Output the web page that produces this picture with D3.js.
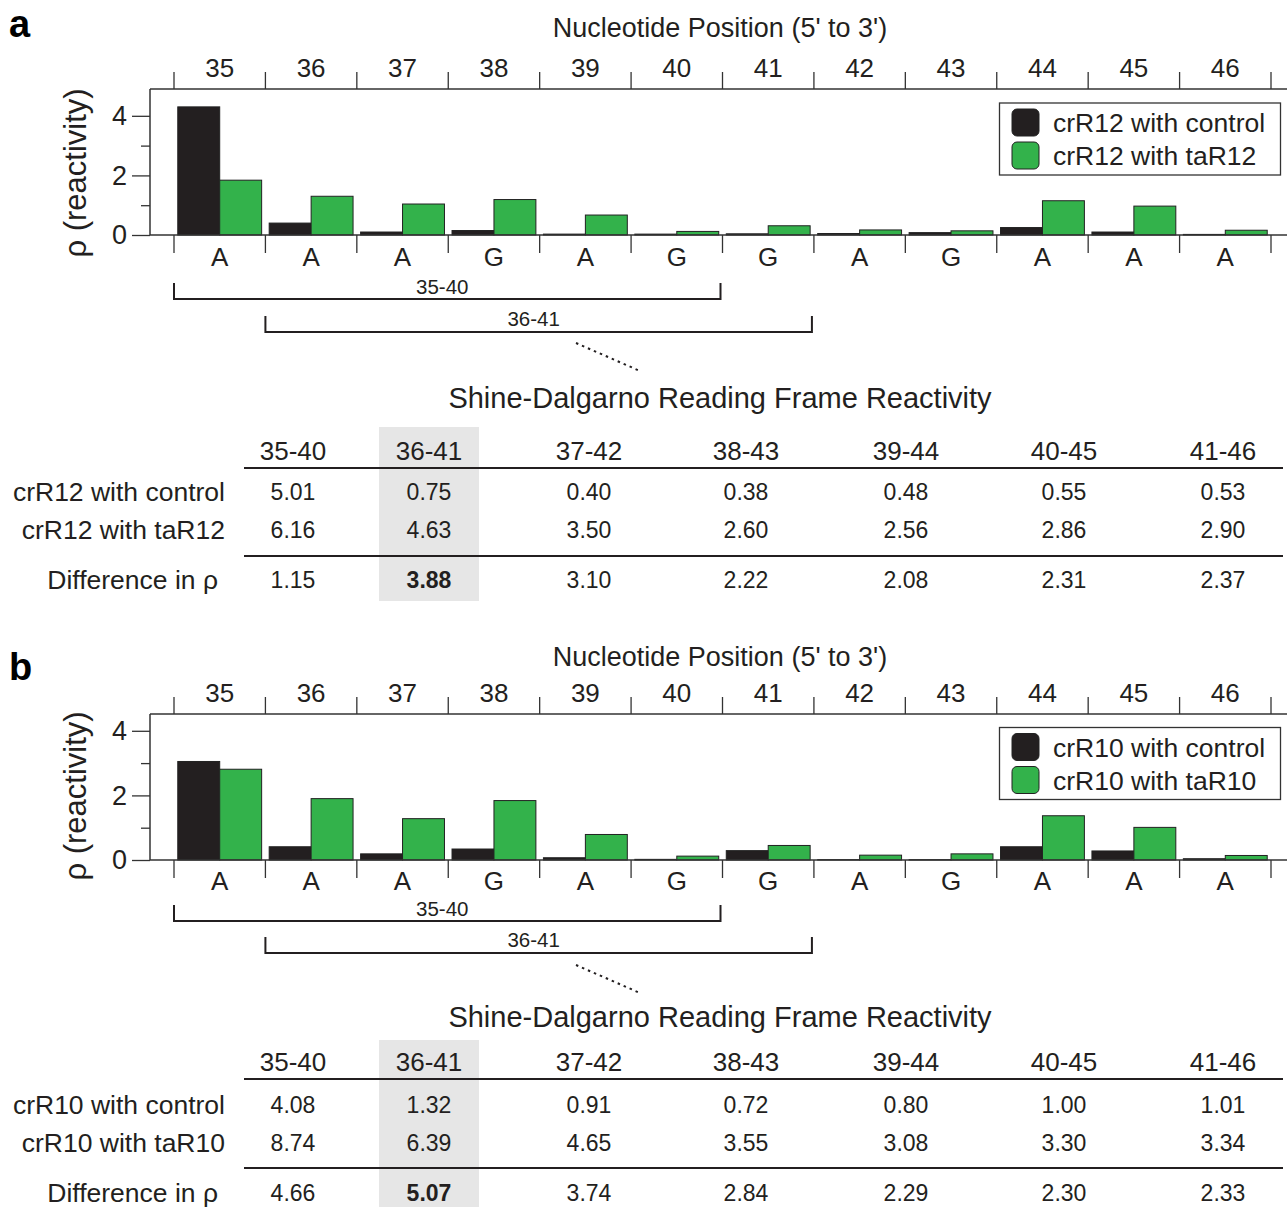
<!DOCTYPE html>
<html>
<head>
<meta charset="utf-8">
<script src="https://cdn.jsdelivr.net/npm/d3@7"></script>
<style>
  body { margin: 0; background: #fff; }
  svg { display: block; font-family: "Liberation Sans", Arial, Helvetica, sans-serif; }
</style>
</head>
<body>
<svg id="chart" width="1287" height="1207"></svg>
<script>
// ---- data ----
const positions = [35, 36, 37, 38, 39, 40, 41, 42, 43, 44, 45, 46];
const bases = ['A', 'A', 'A', 'G', 'A', 'G', 'G', 'A', 'G', 'A', 'A', 'A'];

const crR12Control = [4.30, 0.40, 0.10, 0.15, 0.03, 0.03, 0.04, 0.05, 0.08, 0.25, 0.10, 0.02];
const crR12TaR12   = [1.84, 1.30, 1.04, 1.19, 0.67, 0.12, 0.31, 0.17, 0.14, 1.15, 0.97, 0.16];
const crR10Control = [3.05, 0.41, 0.19, 0.34, 0.07, 0.02, 0.29, 0.01, 0.01, 0.41, 0.28, 0.04];
const crR10TaR10   = [2.81, 1.90, 1.28, 1.84, 0.79, 0.12, 0.45, 0.15, 0.19, 1.37, 1.01, 0.14];

const frames = ['35-40', '36-41', '37-42', '38-43', '39-44', '40-45', '41-46'];
const sumA_control = ['5.01', '0.75', '0.40', '0.38', '0.48', '0.55', '0.53'];
const sumA_treated = ['6.16', '4.63', '3.50', '2.60', '2.56', '2.86', '2.90'];
const diffA        = ['1.15', '3.88', '3.10', '2.22', '2.08', '2.31', '2.37'];
const sumB_control = ['4.08', '1.32', '0.91', '0.72', '0.80', '1.00', '1.01'];
const sumB_treated = ['8.74', '6.39', '4.65', '3.55', '3.08', '3.30', '3.34'];
const diffB        = ['4.66', '5.07', '3.74', '2.84', '2.29', '2.30', '2.33'];

const highlightFrame = '36-41';

// ---- styling / layout ----
const BLACK = '#231f20', GREEN = '#33b24b', INK = '#231f20';
const colCenters = [293, 429, 589, 746, 906, 1064, 1223];

const svg = d3.select('#chart');

const drawPanel = (p) => {
    const g = svg.append('g');

    const x = d3.scaleBand().domain(positions).range([174, 1271]).padding(0);
    const sub = d3.scaleBand().domain(['control', 'treated'])
        .range([0, x.bandwidth()]).paddingInner(0).paddingOuter(0.09);
    const y = d3.scaleLinear().domain([0, p.yMax]).range([p.base, p.top]);

    // panel letter
    g.append('text').attr('x', 9).attr('y', p.letterY)
        .attr('font-size', 38).attr('font-weight', 'bold').attr('fill', '#000')
        .text(p.letter);

    // top title
    g.append('text').attr('x', 720).attr('y', p.titleY)
        .attr('text-anchor', 'middle').attr('font-size', 27).attr('fill', INK)
        .text("Nucleotide Position (5' to 3')");

    // top axis with tick marks at category boundaries
    const bounds = positions.map((d) => x(d)).concat([x(positions[positions.length - 1]) + x.bandwidth()]);
    g.append('line').attr('x1', 150).attr('x2', 1287).attr('y1', p.top).attr('y2', p.top)
        .attr('stroke', '#333').attr('stroke-width', 1.5);
    g.selectAll('.ttick').data(bounds).enter().append('line')
        .attr('x1', (d) => d).attr('x2', (d) => d)
        .attr('y1', p.top - 17).attr('y2', p.top)
        .attr('stroke', '#333').attr('stroke-width', 1.3);
    g.selectAll('.tlab').data(positions).enter().append('text')
        .attr('x', (d) => x(d) + x.bandwidth() / 2).attr('y', p.tickLabelY)
        .attr('text-anchor', 'middle').attr('font-size', 26).attr('fill', INK)
        .text((d) => d);

    // left frame + y axis
    g.append('line').attr('x1', 150).attr('x2', 150).attr('y1', p.top).attr('y2', p.base)
        .attr('stroke', '#333').attr('stroke-width', 1.5);
    const yAxis = d3.axisLeft(y).tickValues([0, 2, 4]).tickSize(18).tickPadding(5).tickFormat(d3.format('d'));
    const yg = g.append('g').attr('transform', 'translate(150,0)').call(yAxis);
    yg.select('.domain').remove();
    yg.selectAll('line').attr('stroke', '#333').attr('stroke-width', 1.3);
    yg.selectAll('text').attr('font-size', 27).attr('fill', INK)
        .attr('font-family', '"Liberation Sans", Arial, sans-serif');
    const yMinor = g.append('g').attr('transform', 'translate(150,0)')
        .call(d3.axisLeft(y).tickValues([1, 3]).tickSize(9).tickFormat(''));
    yMinor.select('.domain').remove();
    yMinor.selectAll('line').attr('stroke', '#333').attr('stroke-width', 1.3);

    g.append('text')
        .attr('transform', `translate(${p.yTitleX},${p.yTitleY}) rotate(-90)`)
        .attr('text-anchor', 'middle').attr('font-size', 31).attr('fill', INK)
        .text('ρ (reactivity)');

    // bars
    const rows = positions.map((pos, i) => ({ pos, control: p.control[i], treated: p.treated[i] }));
    const groups = g.selectAll('.grp').data(rows).enter().append('g')
        .attr('transform', (d) => `translate(${x(d.pos)},0)`);
    groups.selectAll('rect')
        .data((d) => ['control', 'treated'].map((k) => ({ k, v: d[k] })))
        .enter().append('rect')
        .attr('x', (d) => sub(d.k))
        .attr('width', sub.bandwidth())
        .attr('y', (d) => y(d.v))
        .attr('height', (d) => y(0) - y(d.v))
        .attr('fill', (d) => d.k === 'control' ? BLACK : GREEN)
        .attr('stroke', '#222').attr('stroke-width', 1);

    // baseline + bottom boundary ticks + base letters
    g.append('line').attr('x1', 150).attr('x2', 1287).attr('y1', y(0)).attr('y2', y(0))
        .attr('stroke', '#333').attr('stroke-width', 1.5);
    g.selectAll('.btick').data(bounds).enter().append('line')
        .attr('x1', (d) => d).attr('x2', (d) => d)
        .attr('y1', y(0)).attr('y2', y(0) + 18)
        .attr('stroke', '#333').attr('stroke-width', 1.3);
    g.selectAll('.blab').data(rows).enter().append('text')
        .attr('x', (d) => x(d.pos) + x.bandwidth() / 2).attr('y', p.letterRowY)
        .attr('text-anchor', 'middle').attr('font-size', 26).attr('fill', INK)
        .text((d, i) => bases[i]);

    // legend
    const lg = g.append('g');
    lg.append('rect').attr('x', 999.5).attr('y', p.legY).attr('width', 281).attr('height', 72)
        .attr('fill', '#fff').attr('stroke', '#333').attr('stroke-width', 1.3);
    p.legend.forEach((name, i) => {
        lg.append('rect').attr('x', 1012).attr('y', p.legY + 6 + i * 33)
            .attr('width', 27).attr('height', 27).attr('rx', 5)
            .attr('fill', i === 0 ? BLACK : GREEN).attr('stroke', '#222').attr('stroke-width', 1);
        lg.append('text').attr('x', 1053).attr('y', p.legY + 29 + i * 33)
            .attr('font-size', 26.5).attr('fill', INK).text(name);
    });

    // reading frame brackets
    const bracket = (from, to, lineY, label, labY) => {
        const x0 = x(from), x1 = x(to) + x.bandwidth() - 2;
        g.append('path')
            .attr('d', `M${x0},${lineY - 16}V${lineY}H${x1}V${lineY - 16}`)
            .attr('fill', 'none').attr('stroke', INK).attr('stroke-width', 2);
        g.append('text').attr('x', (x0 + x1) / 2 - 5).attr('y', labY)
            .attr('text-anchor', 'middle').attr('font-size', 20.5).attr('fill', INK).text(label);
    };
    bracket(35, 40, p.br1Y, '35-40', p.br1Y - 5);
    bracket(36, 41, p.br2Y, '36-41', p.br2Y - 6);

    g.append('line').attr('x1', 576).attr('y1', p.dotY).attr('x2', 640).attr('y2', p.dotY + 28)
        .attr('stroke', INK).attr('stroke-width', 2).attr('stroke-dasharray', '2.5,4');

    // table
    const t = p.table;
    const hi = frames.indexOf(highlightFrame);
    g.append('rect').attr('x', colCenters[hi] - 50).attr('y', t.grayTop)
        .attr('width', 100).attr('height', t.grayBottom - t.grayTop).attr('fill', '#e6e6e6');

    g.append('text').attr('x', 720).attr('y', t.titleY).attr('text-anchor', 'middle')
        .attr('font-size', 29).attr('fill', INK).text('Shine-Dalgarno Reading Frame Reactivity');

    g.selectAll('.hdr').data(frames).enter().append('text')
        .attr('x', (d, i) => colCenters[i]).attr('y', t.headY)
        .attr('text-anchor', 'middle').attr('font-size', 26).attr('fill', INK).text((d) => d);

    [t.line1, t.line2].forEach((ly) => {
        g.append('line').attr('x1', 244).attr('x2', 1283).attr('y1', ly).attr('y2', ly)
            .attr('stroke', INK).attr('stroke-width', 2.2);
    });

    const tableRows = [
        { label: p.legend[0], vals: t.control, y: t.r1 },
        { label: p.legend[1], vals: t.treated, y: t.r2 },
        { label: 'Difference in ρ', vals: t.diff, y: t.r3, diff: true }
    ];
    tableRows.forEach((r) => {
        g.append('text').attr('x', r.diff ? 218 : 225).attr('y', r.y + 1).attr('text-anchor', 'end')
            .attr('font-size', 26.5).attr('fill', INK).text(r.label);
        g.selectAll(null).data(r.vals).enter().append('text')
            .attr('x', (d, i) => colCenters[i]).attr('y', r.y)
            .attr('text-anchor', 'middle').attr('font-size', 23).attr('fill', INK)
            .attr('font-weight', (d, i) => (r.diff && i === hi) ? 'bold' : null)
            .text((d) => d);
    });
};

drawPanel({
    letter: 'a', letterY: 37, titleY: 37, tickLabelY: 77,
    top: 89, base: 235, yMax: 4.9, yTitleX: 86, yTitleY: 173,
    letterRowY: 266, legY: 103,
    control: crR12Control, treated: crR12TaR12,
    legend: ['crR12 with control', 'crR12 with taR12'],
    br1Y: 299, br2Y: 332, dotY: 343,
    table: {
        titleY: 408, grayTop: 427, grayBottom: 601, headY: 460, line1: 468,
        r1: 500, r2: 538, line2: 556, r3: 588,
        control: sumA_control, treated: sumA_treated, diff: diffA
    }
});

drawPanel({
    letter: 'b', letterY: 680, titleY: 666, tickLabelY: 702,
    top: 714, base: 860, yMax: 4.52, yTitleX: 86, yTitleY: 796,
    letterRowY: 890, legY: 727.5,
    control: crR10Control, treated: crR10TaR10,
    legend: ['crR10 with control', 'crR10 with taR10'],
    br1Y: 921, br2Y: 953, dotY: 965,
    table: {
        titleY: 1027, grayTop: 1040, grayBottom: 1207, headY: 1071, line1: 1079,
        r1: 1113, r2: 1151, line2: 1168, r3: 1201,
        control: sumB_control, treated: sumB_treated, diff: diffB
    }
});
</script>
</body>
</html>
